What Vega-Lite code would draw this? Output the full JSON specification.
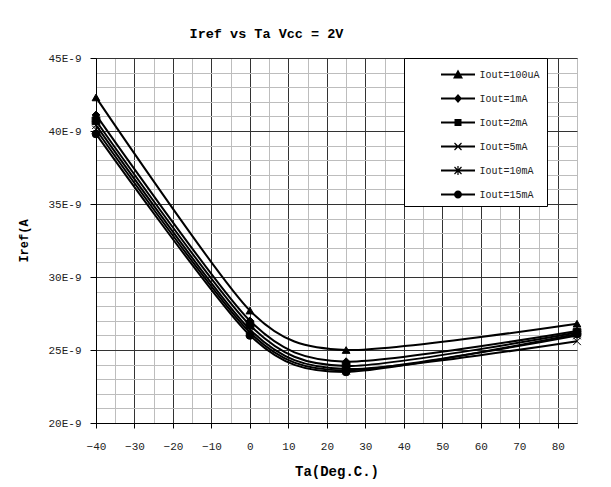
{
  "$schema": "https://vega.github.io/schema/vega-lite/v6.json",
  "autosize": {"type": "none"},
  "padding": {"left": 96, "top": 58, "right": 34, "bottom": 64},
  "width": 481,
  "height": 365,
  "background": "white",
  "title": {"text": "Iref vs Ta Vcc = 2V", "font": "Liberation Mono", "fontSize": 13.5, "fontWeight": "bold", "color": "black", "anchor": "middle", "dx": -70, "offset": 12},
  "config": {
    "view": {"stroke": "#888", "strokeWidth": 1},
    "axis": {"labelFont": "Liberation Mono", "labelFontSize": 11, "labelColor": "#222", "titleFont": "Liberation Mono", "titleFontWeight": "bold", "titleColor": "black", "domainColor": "black", "tickColor": "black", "gridOpacity": 1, "gridWidth": 1}
  },
  "data": {"values": [
    {"ta": -40, "iout": "100uA", "iref": 42.3},
    {"ta": 0, "iout": "100uA", "iref": 27.7},
    {"ta": 25, "iout": "100uA", "iref": 25.0},
    {"ta": 85, "iout": "100uA", "iref": 26.8},
    {"ta": -40, "iout": "1mA", "iref": 41.1},
    {"ta": 0, "iout": "1mA", "iref": 27.0},
    {"ta": 25, "iout": "1mA", "iref": 24.2},
    {"ta": 85, "iout": "1mA", "iref": 26.3},
    {"ta": -40, "iout": "2mA", "iref": 40.7},
    {"ta": 0, "iout": "2mA", "iref": 26.7},
    {"ta": 25, "iout": "2mA", "iref": 23.9},
    {"ta": 85, "iout": "2mA", "iref": 26.2},
    {"ta": -40, "iout": "5mA", "iref": 40.4},
    {"ta": 0, "iout": "5mA", "iref": 26.4},
    {"ta": 25, "iout": "5mA", "iref": 23.7},
    {"ta": 85, "iout": "5mA", "iref": 25.6},
    {"ta": -40, "iout": "10mA", "iref": 40.1},
    {"ta": 0, "iout": "10mA", "iref": 26.2},
    {"ta": 25, "iout": "10mA", "iref": 23.6},
    {"ta": 85, "iout": "10mA", "iref": 26.0},
    {"ta": -40, "iout": "15mA", "iref": 39.8},
    {"ta": 0, "iout": "15mA", "iref": 26.0},
    {"ta": 25, "iout": "15mA", "iref": 23.5},
    {"ta": 85, "iout": "15mA", "iref": 26.1}
  ]},
  "encoding": {
    "x": {"field": "ta", "type": "quantitative", "title": "Ta(Deg.C.)",
      "scale": {"domain": [-40, 85], "nice": false, "zero": false},
      "axis": {
        "values": [-40,-35,-30,-25,-20,-15,-10,-5,0,5,10,15,20,25,30,35,40,45,50,55,60,65,70,75,80,85],
        "grid": true,
        "gridColor": {"condition": {"test": "datum.value % 10 === 0 && datum.value < 85", "value": "#333"}, "value": "#bdbdbd"},
        "tickOpacity": {"condition": {"test": "datum.value % 10 === 0 && datum.value < 85", "value": 1}, "value": 0},
        "labelExpr": "datum.value % 10 === 0 && datum.value < 85 ? datum.label : ''",
        "tickSize": 5, "labelPadding": 12, "titlePadding": 13, "titleFontSize": 14,
        "labelFlush": false, "labelOverlap": false
      }
    },
    "y": {"field": "iref", "type": "quantitative", "title": "Iref(A",
      "scale": {"domain": [20, 45], "nice": false, "zero": false},
      "axis": {
        "values": [20,21,22,23,24,25,26,27,28,29,30,31,32,33,34,35,36,37,38,39,40,41,42,43,44,45],
        "grid": true,
        "gridColor": {"condition": {"test": "datum.value % 5 === 0", "value": "#333"}, "value": "#bdbdbd"},
        "tickOpacity": {"condition": {"test": "datum.value % 5 === 0", "value": 1}, "value": 0},
        "labelExpr": "datum.value % 5 === 0 ? datum.value + 'E-9' : ''",
        "tickSize": 6, "labelPadding": 9, "titlePadding": 17, "titleFontSize": 12,
        "labelFlush": false, "labelOverlap": false
      }
    }
  },
  "layer": [
    {
      "mark": {"type": "line", "interpolate": "cardinal", "tension": 0.25, "color": "black", "strokeWidth": 2},
      "encoding": {"detail": {"field": "iout"}}
    },
    {
      "mark": {"type": "point", "filled": true, "fill": "black", "stroke": "black", "strokeWidth": 1, "opacity": 1, "size": 60},
      "encoding": {
        "shape": {"field": "iout", "type": "nominal", "legend": null,
          "scale": {"domain": ["100uA","1mA","2mA","5mA","10mA","15mA"],
            "range": ["triangle-up", "diamond", "square", "M-1,-1L1,1M-1,1L1,-1", "M-1,-1L1,1M-1,1L1,-1M0,-1.2L0,1.2", "circle"]}}
      }
    },
    {
      "mark": {"type": "point", "filled": true, "color": "black", "opacity": 0},
      "encoding": {
        "shape": {"field": "iout", "type": "nominal",
          "scale": {"domain": ["100uA","1mA","2mA","5mA","10mA","15mA"],
            "range": [
              "M2.05,-0.1L5.45,-0.1L5.45,0.1L2.05,0.1ZM3.75,-0.5L4.25,0.4L3.25,0.4Z",
              "M2.05,-0.1L5.45,-0.1L5.45,0.1L2.05,0.1ZM3.75,-0.45L4.15,0L3.75,0.45L3.35,0Z",
              "M2.05,-0.1L5.45,-0.1L5.45,0.1L2.05,0.1ZM3.4,-0.35L4.1,-0.35L4.1,0.35L3.4,0.35Z",
              "M2.05,-0.1L5.45,-0.1L5.45,0.1L2.05,0.1ZM3.442,-0.392L4.142,0.308L4.058,0.392L3.358,-0.308ZM3.358,0.308L4.058,-0.392L4.142,-0.308L3.442,0.392Z",
              "M2.05,-0.1L5.45,-0.1L5.45,0.1L2.05,0.1ZM3.442,-0.392L4.142,0.308L4.058,0.392L3.358,-0.308ZM3.358,0.308L4.058,-0.392L4.142,-0.308L3.442,0.392ZM3.69,-0.45L3.81,-0.45L3.81,0.45L3.69,0.45Z",
              "M2.05,-0.1L5.45,-0.1L5.45,0.1L2.05,0.1ZM3.35,0A0.4,0.4,0,1,1,4.15,0A0.4,0.4,0,1,1,3.35,0Z"
            ]},
          "legend": {
            "title": null, "orient": "none", "legendX": 308, "legendY": 0,
            "padding": 6.5, "rowPadding": 9, "labelOffset": 49,
            "symbolSize": 400, "symbolOpacity": 1, "symbolFillColor": "black", "symbolStrokeWidth": 0,
            "labelFont": "Liberation Mono", "labelFontSize": 10, "labelColor": "#222",
            "labelExpr": "'Iout=' + datum.label",
            "strokeColor": "black", "fillColor": "white", "cornerRadius": 0
          }
        }
      }
    }
  ],
  "resolve": {"scale": {"shape": "independent"}}
}
